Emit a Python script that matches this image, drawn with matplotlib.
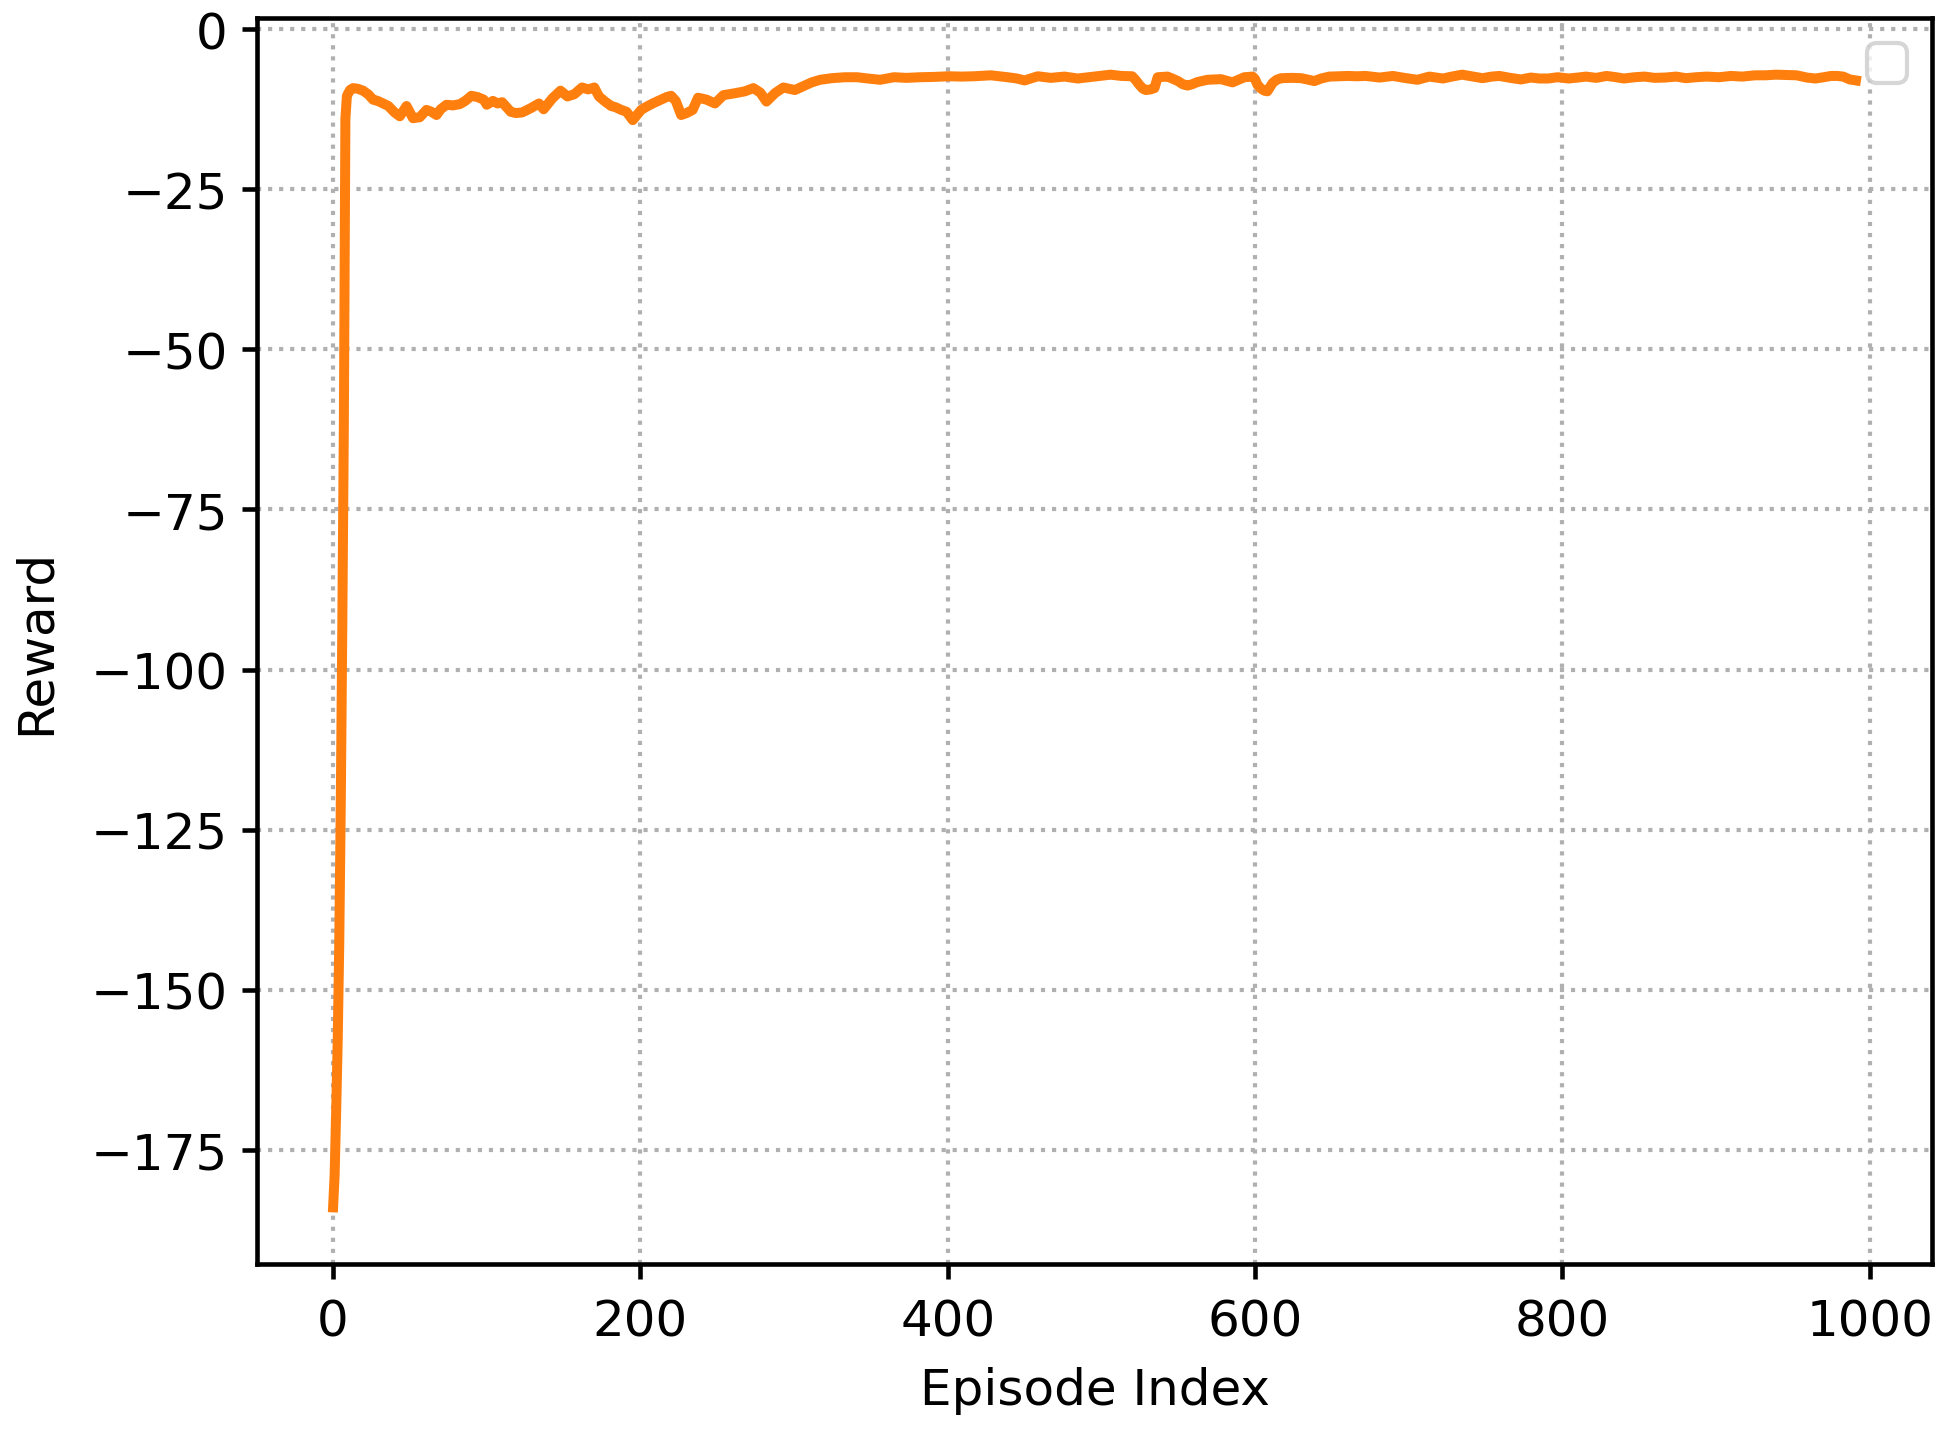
import matplotlib.pyplot as plt

# episode index and (smoothed) reward
episodes = [0, 1, 2, 3, 4, 5, 6, 7, 8, 9, 11, 13, 16, 19.5, 23, 26, 29, 32.6, 36, 40, 43.4,
            47.8, 52, 56.4, 60.8, 64, 67.3, 70, 73.8, 78, 82.5, 86, 90, 94, 98, 100, 104,
            107, 110, 115.6, 119, 123, 128.5, 134, 137, 142.7, 148, 152.5, 157, 162, 166,
            170, 173, 177, 181, 184, 187.5, 191, 195, 200.5, 204, 208, 213.5, 217, 220,
            223, 226.5, 230, 234, 237.5, 243, 248.5, 254, 261.5, 268, 273.5, 278, 282,
            287.5, 293, 300.5, 306, 311.5, 317, 324.5, 333, 341, 348, 356, 365, 373, 382,
            391, 400.7, 409, 417, 428, 439, 445, 450, 458.6, 467, 476, 484.5, 495.4, 506,
            513, 520, 522.5, 524.7, 527, 529, 532, 534.5, 536.6, 543, 546, 549.8, 553,
            556, 559, 562.5, 569, 577.7, 585.3, 593, 598.4, 600, 601.6, 604, 606, 608,
            611.4, 614, 617, 624, 630, 638.6, 643, 648.3, 655, 660.6, 666, 672, 681,
            689.7, 697, 705.6, 713.4, 722.3, 728, 734.7, 742, 748, 754, 759, 766, 773,
            779.5, 785, 790.6, 797, 804, 810, 815.3, 822, 828.7, 835, 840, 847, 853.4,
            860, 866.9, 874, 880.4, 887, 893.9, 902, 909.6, 917, 925.4, 932, 938.9, 946,
            952.4, 959, 964.7, 970, 974.8, 979, 982.7, 987, 991]
reward = [-184.0, -179.0, -169.0, -158.0, -143.0, -121.0, -93.0, -62.0, -14.0, -10.4,
          -9.5, -9.2, -9.3, -9.6, -10.2, -11.0, -11.2, -11.6, -12.0, -13.0, -13.6,
          -12.0, -13.9, -13.75, -12.6, -12.9, -13.4, -12.5, -11.8, -11.9, -11.7, -11.2,
          -10.4, -10.6, -11.0, -11.8, -11.2, -11.6, -11.4, -12.9, -13.1, -13.0, -12.35,
          -11.6, -12.5, -10.8, -9.6, -10.5, -10.15, -9.1, -9.4, -9.1, -10.5, -11.3,
          -12.0, -12.2, -12.6, -12.9, -14.2, -12.6, -12.1, -11.6, -11.0, -10.6, -10.4,
          -11.2, -13.4, -13.1, -12.6, -10.7, -11.0, -11.6, -10.3, -10.0, -9.7, -9.2,
          -9.9, -11.3, -10.0, -9.1, -9.5, -8.9, -8.3, -7.9, -7.65, -7.5, -7.5, -7.7,
          -7.9, -7.5, -7.6, -7.5, -7.45, -7.35, -7.4, -7.35, -7.2, -7.5, -7.7, -8.0,
          -7.35, -7.6, -7.4, -7.7, -7.4, -7.1, -7.3, -7.35, -8.0, -8.7, -9.3, -9.5,
          -9.4, -9.2, -7.5, -7.4, -7.7, -8.1, -8.6, -8.8, -8.6, -8.25, -7.9, -7.8,
          -8.3, -7.5, -7.4, -7.8, -8.7, -9.3, -9.6, -9.7, -8.4, -7.9, -7.65, -7.6,
          -7.65, -8.1, -7.7, -7.4, -7.35, -7.3, -7.35, -7.3, -7.55, -7.3, -7.6, -7.9,
          -7.4, -7.7, -7.4, -7.1, -7.4, -7.65, -7.4, -7.3, -7.6, -7.85, -7.55, -7.7,
          -7.7, -7.5, -7.7, -7.55, -7.4, -7.6, -7.3, -7.5, -7.7, -7.5, -7.4, -7.6,
          -7.55, -7.4, -7.65, -7.5, -7.4, -7.5, -7.3, -7.4, -7.2, -7.2, -7.1, -7.15,
          -7.2, -7.55, -7.7, -7.5, -7.3, -7.3, -7.4, -7.85, -8.0]

plt.rcParams['font.size'] = 12

fig, ax = plt.subplots(figsize=(1951 / 300, 1431 / 300), dpi=300)
fig.subplots_adjust(left=0.1317, right=0.9903, top=0.9867, bottom=0.116)

ax.plot(episodes, reward, c="#ff7f0e", linewidth=2.4)
ax.grid(True, linestyle=":", linewidth=1.0, color="#b0b0b0")
ax.set_xlabel("Episode Index", labelpad=5)
ax.set_ylabel("Reward", labelpad=7.5)
ax.set_xticks([0, 200, 400, 600, 800, 1000])
ax.set_yticks([0, -25, -50, -75, -100, -125, -150, -175])
for s in ax.spines.values():
    s.set_linewidth(1.1)
ax.tick_params(width=1.1, length=3.5)
ax.tick_params(axis="x", pad=4.5)
ax.legend()

fig.savefig("out.png", dpi=300)
